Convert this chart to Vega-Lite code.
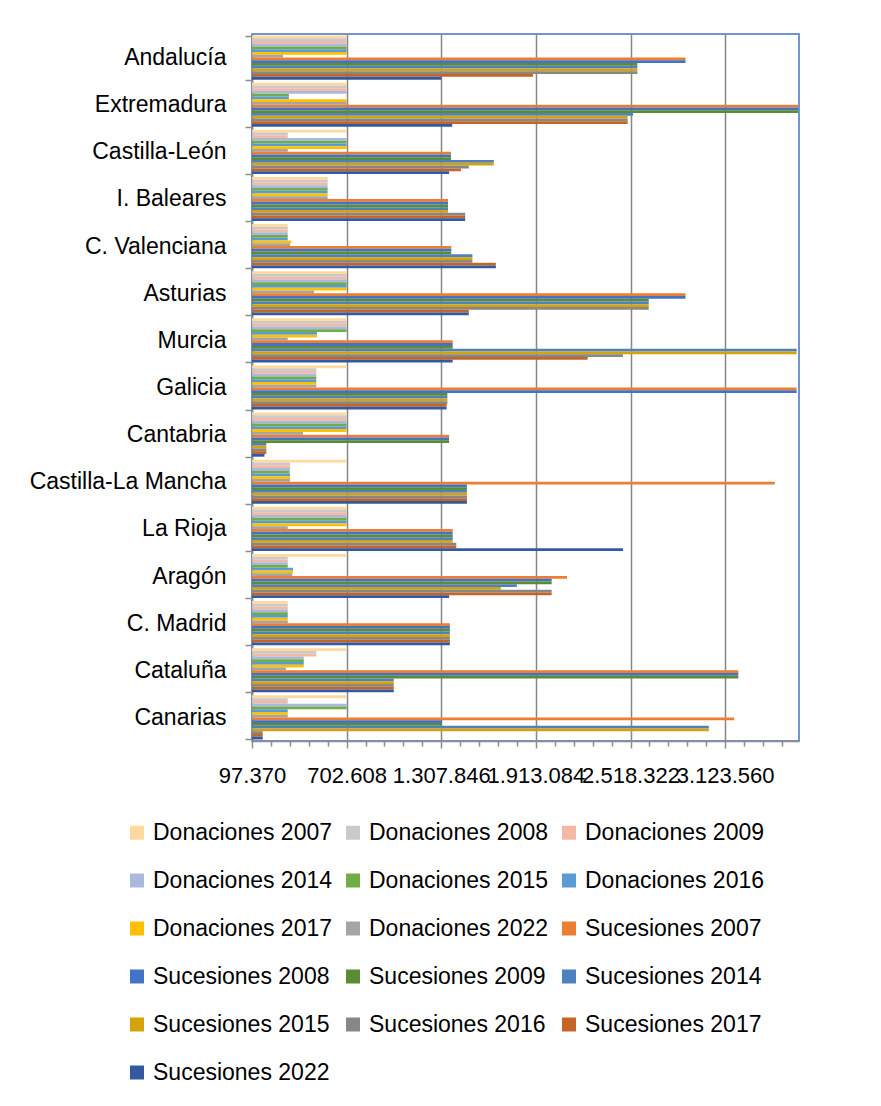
{
  "$schema": "https://vega.github.io/schema/vega-lite/v6.json",
  "width": 547,
  "height": 707,
  "autosize": {"type": "none"},
  "padding": {"left": 252, "top": 34, "right": 82, "bottom": 365},
  "background": "white",
  "config": {
    "locale": {"number": {"decimal": ",", "thousands": ".", "grouping": [3], "currency": ["", " €"]}},
    "view": {"stroke": "#4472C4", "strokeWidth": 1.5},
    "font": "Liberation Sans"
  },
  "data": {
    "values": [
      {"region": "Andalucía", "Donaciones 2007": 702608, "Donaciones 2008": 702608, "Donaciones 2009": 702608, "Donaciones 2014": 702608, "Donaciones 2015": 702608, "Donaciones 2016": 702608, "Donaciones 2017": 702608, "Donaciones 2022": 296000, "Sucesiones 2007": 2870000, "Sucesiones 2008": 2870000, "Sucesiones 2009": 2562000, "Sucesiones 2014": 2562000, "Sucesiones 2015": 2562000, "Sucesiones 2016": 2562000, "Sucesiones 2017": 1895000, "Sucesiones 2022": 1307846},
      {"region": "Extremadura", "Donaciones 2007": 702608, "Donaciones 2008": 702608, "Donaciones 2009": 702608, "Donaciones 2014": 702608, "Donaciones 2015": 333000, "Donaciones 2016": 333000, "Donaciones 2017": 702608, "Donaciones 2022": 702608, "Sucesiones 2007": 3590000, "Sucesiones 2008": 3590000, "Sucesiones 2009": 3590000, "Sucesiones 2014": 2534000, "Sucesiones 2015": 2500000, "Sucesiones 2016": 2500000, "Sucesiones 2017": 2500000, "Sucesiones 2022": 1378000},
      {"region": "Castilla-León", "Donaciones 2007": 702608, "Donaciones 2008": 326000, "Donaciones 2009": 326000, "Donaciones 2014": 702608, "Donaciones 2015": 702608, "Donaciones 2016": 702608, "Donaciones 2017": 702608, "Donaciones 2022": 326000, "Sucesiones 2007": 1370000, "Sucesiones 2008": 1370000, "Sucesiones 2009": 1370000, "Sucesiones 2014": 1644000, "Sucesiones 2015": 1644000, "Sucesiones 2016": 1484000, "Sucesiones 2017": 1434000, "Sucesiones 2022": 1358000},
      {"region": "I. Baleares", "Donaciones 2007": 581000, "Donaciones 2008": 581000, "Donaciones 2009": 581000, "Donaciones 2014": 581000, "Donaciones 2015": 581000, "Donaciones 2016": 581000, "Donaciones 2017": 581000, "Donaciones 2022": 581000, "Sucesiones 2007": 1351000, "Sucesiones 2008": 1351000, "Sucesiones 2009": 1351000, "Sucesiones 2014": 1351000, "Sucesiones 2015": 1351000, "Sucesiones 2016": 1461000, "Sucesiones 2017": 1461000, "Sucesiones 2022": 1461000},
      {"region": "C. Valenciana", "Donaciones 2007": 326000, "Donaciones 2008": 326000, "Donaciones 2009": 326000, "Donaciones 2014": 326000, "Donaciones 2015": 326000, "Donaciones 2016": 326000, "Donaciones 2017": 349000, "Donaciones 2022": 341000, "Sucesiones 2007": 1372000, "Sucesiones 2008": 1372000, "Sucesiones 2009": 1372000, "Sucesiones 2014": 1507000, "Sucesiones 2015": 1507000, "Sucesiones 2016": 1507000, "Sucesiones 2017": 1657000, "Sucesiones 2022": 1657000},
      {"region": "Asturias", "Donaciones 2007": 702608, "Donaciones 2008": 702608, "Donaciones 2009": 702608, "Donaciones 2014": 702608, "Donaciones 2015": 702608, "Donaciones 2016": 702608, "Donaciones 2017": 702608, "Donaciones 2022": 495000, "Sucesiones 2007": 2870000, "Sucesiones 2008": 2870000, "Sucesiones 2009": 2635000, "Sucesiones 2014": 2635000, "Sucesiones 2015": 2635000, "Sucesiones 2016": 2635000, "Sucesiones 2017": 1484000, "Sucesiones 2022": 1484000},
      {"region": "Murcia", "Donaciones 2007": 702608, "Donaciones 2008": 702608, "Donaciones 2009": 702608, "Donaciones 2014": 702608, "Donaciones 2015": 702608, "Donaciones 2016": 513000, "Donaciones 2017": 513000, "Donaciones 2022": 326000, "Sucesiones 2007": 1381000, "Sucesiones 2008": 1381000, "Sucesiones 2009": 1381000, "Sucesiones 2014": 3581000, "Sucesiones 2015": 3581000, "Sucesiones 2016": 2470000, "Sucesiones 2017": 2244000, "Sucesiones 2022": 1381000},
      {"region": "Galicia", "Donaciones 2007": 702608, "Donaciones 2008": 508500, "Donaciones 2009": 508500, "Donaciones 2014": 508500, "Donaciones 2015": 508500, "Donaciones 2016": 508500, "Donaciones 2017": 508500, "Donaciones 2022": 508500, "Sucesiones 2007": 3581000, "Sucesiones 2008": 3581000, "Sucesiones 2009": 1347000, "Sucesiones 2014": 1347000, "Sucesiones 2015": 1347000, "Sucesiones 2016": 1347000, "Sucesiones 2017": 1342000, "Sucesiones 2022": 1342000},
      {"region": "Cantabria", "Donaciones 2007": 702608, "Donaciones 2008": 702608, "Donaciones 2009": 702608, "Donaciones 2014": 702608, "Donaciones 2015": 702608, "Donaciones 2016": 702608, "Donaciones 2017": 702608, "Donaciones 2022": 424000, "Sucesiones 2007": 1358000, "Sucesiones 2008": 1358000, "Sucesiones 2009": 1358000, "Sucesiones 2014": 189000, "Sucesiones 2015": 189000, "Sucesiones 2016": 189000, "Sucesiones 2017": 189000, "Sucesiones 2022": 177000},
      {"region": "Castilla-La Mancha", "Donaciones 2007": 702608, "Donaciones 2008": 341000, "Donaciones 2009": 341000, "Donaciones 2014": 341000, "Donaciones 2015": 337000, "Donaciones 2016": 341000, "Donaciones 2017": 341000, "Donaciones 2022": 341000, "Sucesiones 2007": 3441000, "Sucesiones 2008": 1472000, "Sucesiones 2009": 1472000, "Sucesiones 2014": 1472000, "Sucesiones 2015": 1472000, "Sucesiones 2016": 1472000, "Sucesiones 2017": 1472000, "Sucesiones 2022": 1472000},
      {"region": "La Rioja", "Donaciones 2007": 702608, "Donaciones 2008": 702608, "Donaciones 2009": 702608, "Donaciones 2014": 702608, "Donaciones 2015": 702608, "Donaciones 2016": 702608, "Donaciones 2017": 702608, "Donaciones 2022": 326000, "Sucesiones 2007": 1381000, "Sucesiones 2008": 1381000, "Sucesiones 2009": 1381000, "Sucesiones 2014": 1381000, "Sucesiones 2015": 1381000, "Sucesiones 2016": 1404000, "Sucesiones 2017": 1404000, "Sucesiones 2022": 2470000},
      {"region": "Aragón", "Donaciones 2007": 702608, "Donaciones 2008": 326000, "Donaciones 2009": 326000, "Donaciones 2014": 326000, "Donaciones 2015": 326000, "Donaciones 2016": 360000, "Donaciones 2017": 360000, "Donaciones 2022": 355000, "Sucesiones 2007": 2112000, "Sucesiones 2008": 2014000, "Sucesiones 2009": 2014000, "Sucesiones 2014": 1792000, "Sucesiones 2015": 1689000, "Sucesiones 2016": 2014000, "Sucesiones 2017": 2014000, "Sucesiones 2022": 1358000},
      {"region": "C. Madrid", "Donaciones 2007": 326000, "Donaciones 2008": 326000, "Donaciones 2009": 326000, "Donaciones 2014": 326000, "Donaciones 2015": 326000, "Donaciones 2016": 326000, "Donaciones 2017": 326000, "Donaciones 2022": 326000, "Sucesiones 2007": 1363000, "Sucesiones 2008": 1363000, "Sucesiones 2009": 1363000, "Sucesiones 2014": 1363000, "Sucesiones 2015": 1363000, "Sucesiones 2016": 1363000, "Sucesiones 2017": 1363000, "Sucesiones 2022": 1363000},
      {"region": "Cataluña", "Donaciones 2007": 702608, "Donaciones 2008": 508500, "Donaciones 2009": 508500, "Donaciones 2014": 428500, "Donaciones 2015": 428500, "Donaciones 2016": 428500, "Donaciones 2017": 428500, "Donaciones 2022": 314000, "Sucesiones 2007": 3208000, "Sucesiones 2008": 3208000, "Sucesiones 2009": 3208000, "Sucesiones 2014": 1004000, "Sucesiones 2015": 1004000, "Sucesiones 2016": 1004000, "Sucesiones 2017": 1004000, "Sucesiones 2022": 1004000},
      {"region": "Canarias", "Donaciones 2007": 702608, "Donaciones 2008": 326000, "Donaciones 2009": 326000, "Donaciones 2014": 702608, "Donaciones 2015": 702608, "Donaciones 2016": 326000, "Donaciones 2017": 326000, "Donaciones 2022": 326000, "Sucesiones 2007": 3181000, "Sucesiones 2008": 1312000, "Sucesiones 2009": 1312000, "Sucesiones 2014": 3019000, "Sucesiones 2015": 3019000, "Sucesiones 2016": 166000, "Sucesiones 2017": 166000, "Sucesiones 2022": 166000}
    ]
  },
  "transform": [
    {"fold": ["Donaciones 2007", "Donaciones 2008", "Donaciones 2009", "Donaciones 2014", "Donaciones 2015", "Donaciones 2016", "Donaciones 2017", "Donaciones 2022", "Sucesiones 2007", "Sucesiones 2008", "Sucesiones 2009", "Sucesiones 2014", "Sucesiones 2015", "Sucesiones 2016", "Sucesiones 2017", "Sucesiones 2022"], "as": ["serie", "valor"]}
  ],
  "mark": {"type": "bar", "clip": true},
  "encoding": {
    "y": {
      "field": "region", "type": "nominal",
      "sort": ["Andalucía", "Extremadura", "Castilla-León", "I. Baleares", "C. Valenciana", "Asturias", "Murcia", "Galicia", "Cantabria", "Castilla-La Mancha", "La Rioja", "Aragón", "C. Madrid", "Cataluña", "Canarias"],
      "scale": {"paddingInner": 0.064, "paddingOuter": 0.032},
      "axis": {
        "title": null, "tickBand": "extent", "tickSize": 7, "tickColor": "#8c8c8c", "tickWidth": 1.5,
        "domainColor": "#8c8c8c", "domainWidth": 1.5,
        "labelFont": "Liberation Sans", "labelFontSize": 23, "labelColor": "#000000", "labelPadding": 19, "labelLimit": 400
      }
    },
    "yOffset": {
      "field": "serie", "type": "nominal",
      "sort": ["Donaciones 2007", "Donaciones 2008", "Donaciones 2009", "Donaciones 2014", "Donaciones 2015", "Donaciones 2016", "Donaciones 2017", "Donaciones 2022", "Sucesiones 2007", "Sucesiones 2008", "Sucesiones 2009", "Sucesiones 2014", "Sucesiones 2015", "Sucesiones 2016", "Sucesiones 2017", "Sucesiones 2022"],
      "scale": {"paddingInner": 0, "paddingOuter": 0}
    },
    "x": {
      "field": "valor", "type": "quantitative",
      "scale": {"domain": [97370, 3596000], "zero": false, "nice": false},
      "axis": {
        "title": null,
        "values": [97370, 218417.6, 339465.2, 460512.8, 581560.4, 702608, 823655.6, 944703.2, 1065750.8, 1186798.4, 1307846, 1428893.6, 1549941.2, 1670988.8, 1792036.4, 1913084, 2034131.6, 2155179.2, 2276226.8, 2397274.4, 2518322, 2639369.6, 2760417.2, 2881464.8, 3002512.4, 3123560, 3244607.6, 3365655.2, 3486702.8],
        "format": ",.0f",
        "labelExpr": "abs((datum.value - 97370) / 605238 - round((datum.value - 97370) / 605238)) < 0.01 ? datum.label : ''",
        "labelOverlap": false, "labelFlush": false,
        "labelFont": "Liberation Sans", "labelFontSize": 22, "labelColor": "#000000", "labelPadding": 17, "labelDx": 4,
        "grid": true, "gridColor": "#868686", "gridWidth": 1.5,
        "gridOpacity": {"condition": {"test": "abs((datum.value - 97370) / 605238 - round((datum.value - 97370) / 605238)) < 0.01", "value": 1}, "value": 0},
        "tickColor": "#8c8c8c", "tickWidth": 1.5,
        "tickSize": {"condition": {"test": "abs((datum.value - 97370) / 605238 - round((datum.value - 97370) / 605238)) < 0.01", "value": 7}, "value": 5},
        "domainColor": "#8c8c8c", "domainWidth": 1.5
      }
    },
    "color": {
      "field": "serie", "type": "nominal",
      "scale": {
        "domain": ["Donaciones 2007", "Donaciones 2008", "Donaciones 2009", "Donaciones 2014", "Donaciones 2015", "Donaciones 2016", "Donaciones 2017", "Donaciones 2022", "Sucesiones 2007", "Sucesiones 2008", "Sucesiones 2009", "Sucesiones 2014", "Sucesiones 2015", "Sucesiones 2016", "Sucesiones 2017", "Sucesiones 2022"],
        "range": ["#FFD99E", "#CACACA", "#F4B9A4", "#A9B8DC", "#70AD47", "#5B9BD5", "#FFC000", "#A5A5A5", "#ED7D31", "#4472C4", "#5B8C32", "#4E81BD", "#D4A20A", "#878787", "#C56427", "#335AA0"]
      },
      "legend": {
        "title": null, "orient": "none", "legendX": -126.5, "legendY": 787,
        "direction": "horizontal", "columns": 3,
        "symbolType": "square", "symbolSize": 196, "symbolStrokeWidth": 0,
        "labelFont": "Liberation Sans", "labelFontSize": 23, "labelColor": "#000000",
        "labelOffset": 4.5, "columnPadding": 9, "rowPadding": 24, "labelLimit": 300
      }
    }
  }
}
